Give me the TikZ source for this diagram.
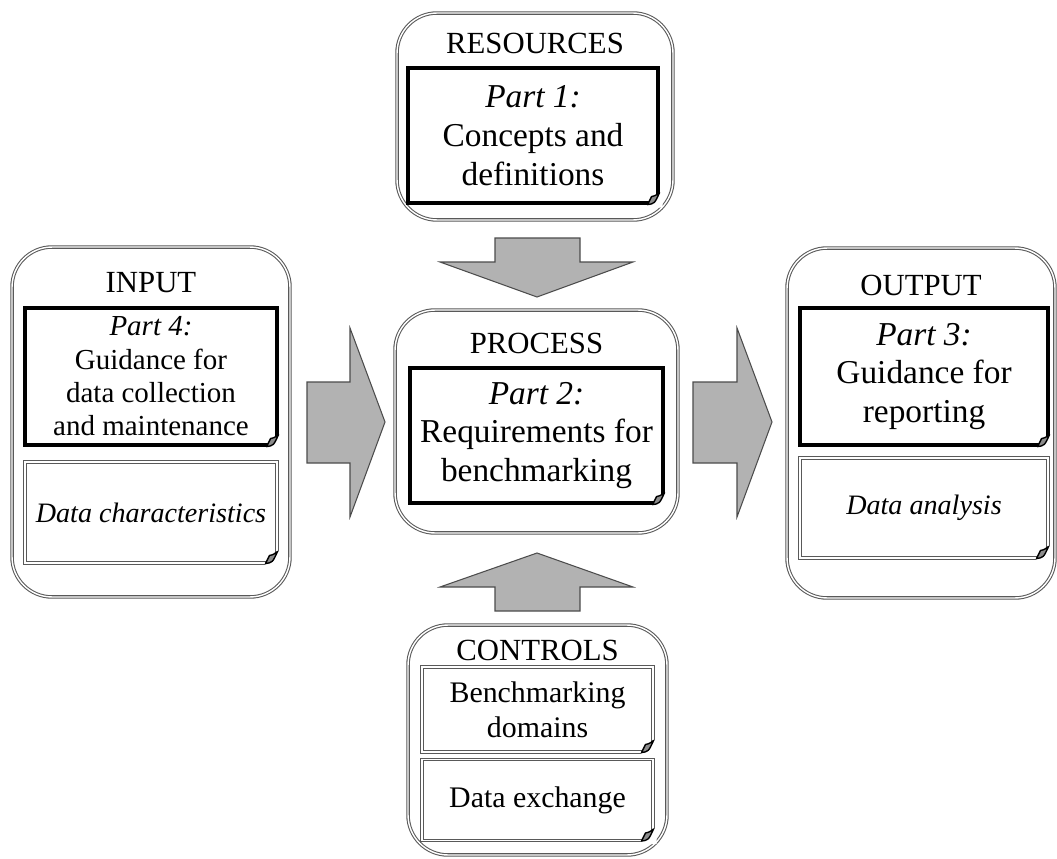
\documentclass[tikz,border=0pt]{standalone}
\usepackage{fontspec}
\setmainfont{Liberation Serif}
\usetikzlibrary{shapes.geometric, arrows}

\begin{document}
\begin{tikzpicture}[x=0.02cm, y=-0.02cm,
    frame/.style={draw=black!65, double=white, double distance=0.8pt, line width=0.6pt, rounded corners=0.8cm, inner sep=0pt},
    partbox/.style={draw=black, line width=1.8pt, align=center, inner sep=0pt, font=\fontsize{19}{22}\selectfont},
    notebox/.style={draw=black!65, double=white, double distance=0.7pt, line width=0.6pt, align=center, inner sep=0pt, font=\fontsize{16}{20}\selectfont},
    title/.style={font=\fontsize{17.5}{20}\selectfont},
    blockarrow/.style={draw=black!70, fill=black!30, line width=0.6pt, line join=miter}]
        \useasboundingbox (0,0) rectangle (1057,858);

        % Draw the five frames
        \node[frame, minimum width=5.52cm, minimum height=4.14cm] (res) at (535,116.5) {};
        \node[frame, minimum width=5.66cm, minimum height=4.46cm] (proc) at (536.5,421.5) {};
        \node[frame, minimum width=5.56cm, minimum height=7cm] (inp) at (151,422) {};
        \node[frame, minimum width=5.36cm, minimum height=7cm] (outp) at (921,423) {};
        \node[frame, minimum width=5.18cm, minimum height=4.6cm] (ctrl) at (537.5,740) {};

        \node[title] (restitle) at (535,43) {RESOURCES};
        \node[title] (proctitle) at (536.5,343) {PROCESS};
        \node[title] (inptitle) at (151,283) {INPUT};
        \node[title] (outptitle) at (921,285) {OUTPUT};
        \node[title] (ctrltitle) at (537.5,650) {CONTROLS};

        % Parts
        \node[partbox, minimum width=5cm, minimum height=2.7cm] (p1) at (533,135.5) {\textit{Part 1:}\\Concepts and\\definitions};
        \node[partbox, minimum width=5.06cm, minimum height=2.7cm] (p2) at (536.5,435.5) {\textit{Part 2:}\\Requirements for\\benchmarking};
        \node[partbox, minimum width=4.96cm, minimum height=2.74cm] (p3) at (924,376.5) {\textit{Part 3:}\\Guidance for\\reporting};
        \node[partbox, minimum width=5.04cm, minimum height=2.74cm, font=\fontsize{16.5}{19}\selectfont] (p4) at (151,376.5) {\textit{Part 4:}\\Guidance for\\data collection\\and maintenance};

        % Other notes
        \node[notebox, minimum width=5.04cm, minimum height=2.02cm] (dchar) at (151,512.5) {\textit{Data characteristics}};
        \node[notebox, minimum width=4.96cm, minimum height=2cm] (dana) at (924,508) {\textit{Data analysis}};
        \node[notebox, minimum width=4.62cm, minimum height=1.7cm, font=\fontsize{17}{20}\selectfont] (bdom) at (537.5,709.5) {Benchmarking\\domains};
        \node[notebox, minimum width=4.62cm, minimum height=1.62cm, font=\fontsize{17}{20}\selectfont] (dex) at (537.5,800) {Data exchange};

        % Folded corners
        \foreach \n in {p1,p2,p3,p4,dchar,dana,bdom,dex}{
            \fill[white] ([shift={(-14,3)}]\n.south east) -- ([shift={(3,3)}]\n.south east) -- ([shift={(3,-14)}]\n.south east) -- cycle;
            \filldraw[fill=black!45, line width=0.8pt, line join=round] ([shift={(-12,0)}]\n.south east) .. controls ([shift={(-5,-1)}]\n.south east) .. ([shift={(0,-12)}]\n.south east) .. controls ([shift={(-4,-9)}]\n.south east) .. ([shift={(-8,-8)}]\n.south east) -- cycle;
        }

        % Block arrows
        \filldraw[blockarrow] (495,238) -- (580,238) -- (580,262) -- (633,262) -- (537,297) -- (440,262) -- (495,262) -- cycle;
        \filldraw[blockarrow] (495,611) -- (580,611) -- (580,587) -- (633,587) -- (537,553) -- (440,587) -- (495,587) -- cycle;
        \filldraw[blockarrow] (307,382) -- (350,382) -- (350,328) -- (385,422) -- (350,517) -- (350,463) -- (307,463) -- cycle;
        \filldraw[blockarrow] (693,382) -- (737,382) -- (737,328) -- (772,422) -- (737,517) -- (737,463) -- (693,463) -- cycle;
    \end{tikzpicture}
\end{document}
